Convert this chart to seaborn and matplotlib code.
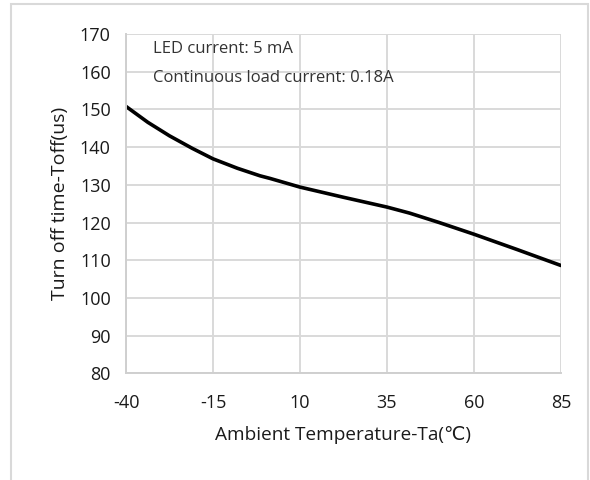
import matplotlib
matplotlib.use('Agg')
import matplotlib.pyplot as plt
import seaborn as sns
import pandas as pd
from matplotlib.patches import Rectangle

# values
temperature = [-40, -33.75, -27.5, -21, -15, -8, -1.5, 1.4, 10, 22.5, 35, 41.5, 50, 60, 72.5, 85]
toff_us = [150.8, 146.6, 143.0, 139.7, 136.9, 134.4, 132.4, 131.7, 129.4, 126.7,
           124.1, 122.5, 120.0, 116.9, 112.8, 108.6]
x_ticks = [-40, -15, 10, 35, 60, 85]
y_ticks = [80, 90, 100, 110, 120, 130, 140, 150, 160, 170]
notes = ['LED current: 5 mA', 'Continuous load current: 0.18A']

df = pd.DataFrame({'temp': temperature, 'toff': toff_us})

sns.set_style('whitegrid')
plt.rcParams['font.family'] = ['Open Sans', 'DejaVu Sans']
plt.rcParams['axes.unicode_minus'] = False

fig = plt.figure(figsize=(5.9, 4.8), dpi=100)
ax = fig.add_axes([0.2136, 0.2223, 0.7372, 0.7067])

sns.lineplot(data=df, x='temp', y='toff', color='black', linewidth=2.6, ax=ax)

ax.set_xlim(-40, 85)
ax.set_ylim(80, 170)
ax.set_xticks(x_ticks)
ax.set_yticks(y_ticks)
ax.grid(True, color='#d9d9d9', linewidth=1.4)
for side in ['top', 'right']:
    ax.spines[side].set_visible(False)
for side in ['left', 'bottom']:
    ax.spines[side].set_color('#cfcfcf')
    ax.spines[side].set_linewidth(1.4)
ax.tick_params(axis='both', length=0, labelsize=13, colors='#1a1a1a')
ax.tick_params(axis='y', pad=11)
ax.tick_params(axis='x', pad=15)

ax.set_xlabel('Ambient Temperature-Ta(℃)', fontsize=13.7, color='#1a1a1a', labelpad=10)
ax.set_ylabel('Turn off time-Toff(us)', fontsize=14, color='#1a1a1a', labelpad=8)

ax.text(0.062, 0.956, notes[0], transform=ax.transAxes, fontsize=12,
        va='center', ha='left', color='#333333')
ax.text(0.062, 0.870, notes[1], transform=ax.transAxes, fontsize=12,
        va='center', ha='left', color='#333333')

# light frame around the chart area
fig.patches.append(Rectangle((11 / 590, -0.05), 577 / 590, 1.05 - 4 / 480,
                             transform=fig.transFigure, fill=False,
                             edgecolor='#d9d9d9', linewidth=1.5))

fig.savefig('out.png', dpi=100)
